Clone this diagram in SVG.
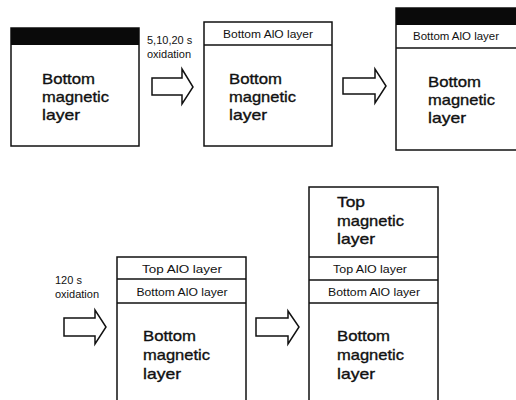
<svg xmlns="http://www.w3.org/2000/svg" width="516" height="400" viewBox="0 0 516 400">
<style>
.box{fill:#fff;stroke:#111;stroke-width:1.5}
.div{stroke:#111;stroke-width:1.3}
.band{fill:#0a0a0a}
.big{font-family:"Liberation Sans",Arial,sans-serif;font-size:15px;fill:#111;stroke:#111;stroke-width:0.35}
.sm{font-family:"Liberation Sans",Arial,sans-serif;font-size:10.5px;fill:#111;text-anchor:middle}
.lbl{font-family:"Liberation Sans",Arial,sans-serif;font-size:11px;fill:#111}
.arr{fill:#fff;stroke:#111;stroke-width:1.5;stroke-linejoin:miter}
</style>
<rect width="516" height="400" fill="#fff"/>
<g id="connectors">
<polygon class="arr" points="152,78 182,78 182,69 193,87 182,104 182,95 152,95"/>
<polygon class="arr" points="343,78 375,78 375,69 386,86 375,103 375,94 343,94"/>
<polygon class="arr" points="64,318 95,318 95,310 106,327 95,344 95,336 64,336"/>
<polygon class="arr" points="256,318 288,318 288,311 299,327 288,344 288,336 256,336"/>
<text class="lbl" x="147" y="44">5,10,20 s</text>
<text class="lbl" x="147" y="58">oxidation</text>
<text class="lbl" x="55" y="284">120 s</text>
<text class="lbl" x="55" y="298">oxidation</text>
</g>
<g id="stack1">
<rect class="box" x="11" y="28" width="128" height="118"/>
<rect class="band" x="11" y="28" width="128" height="17"/>
<text class="big" x="42" y="84" textLength="53" lengthAdjust="spacingAndGlyphs">Bottom</text>
<text class="big" x="42" y="102" textLength="67" lengthAdjust="spacingAndGlyphs">magnetic</text>
<text class="big" x="42" y="120" textLength="38" lengthAdjust="spacingAndGlyphs">layer</text>
</g>
<g id="stack2">
<rect class="box" x="204" y="22" width="128" height="124"/>
<line class="div" x1="204" y1="45" x2="332" y2="45"/>
<text class="sm" x="268" y="38" textLength="90" lengthAdjust="spacingAndGlyphs">Bottom AlO layer</text>
<text class="big" x="229" y="84" textLength="53" lengthAdjust="spacingAndGlyphs">Bottom</text>
<text class="big" x="229" y="102" textLength="67" lengthAdjust="spacingAndGlyphs">magnetic</text>
<text class="big" x="229" y="120" textLength="38" lengthAdjust="spacingAndGlyphs">layer</text>
</g>
<g id="stack3">
<rect class="box" x="396" y="8" width="140" height="142"/>
<rect class="band" x="396" y="8" width="140" height="17"/>
<line class="div" x1="396" y1="48" x2="516" y2="48"/>
<text class="sm" x="456" y="40" textLength="86" lengthAdjust="spacingAndGlyphs">Bottom AlO layer</text>
<text class="big" x="428" y="87" textLength="53" lengthAdjust="spacingAndGlyphs">Bottom</text>
<text class="big" x="428" y="105" textLength="67" lengthAdjust="spacingAndGlyphs">magnetic</text>
<text class="big" x="428" y="123" textLength="38" lengthAdjust="spacingAndGlyphs">layer</text>
</g>
<g id="stack4">
<rect class="box" x="117" y="257" width="129" height="150"/>
<line class="div" x1="117" y1="279" x2="246" y2="279"/>
<line class="div" x1="117" y1="303" x2="246" y2="303"/>
<text class="sm" x="182" y="273" textLength="80" lengthAdjust="spacingAndGlyphs">Top AlO layer</text>
<text class="sm" x="182" y="296" textLength="91" lengthAdjust="spacingAndGlyphs">Bottom AlO layer</text>
<text class="big" x="143" y="341" textLength="53" lengthAdjust="spacingAndGlyphs">Bottom</text>
<text class="big" x="143" y="360" textLength="67" lengthAdjust="spacingAndGlyphs">magnetic</text>
<text class="big" x="143" y="379" textLength="38" lengthAdjust="spacingAndGlyphs">layer</text>
</g>
<g id="stack5">
<rect class="box" x="309" y="187" width="129" height="220"/>
<line class="div" x1="309" y1="257" x2="438" y2="257"/>
<line class="div" x1="309" y1="280" x2="438" y2="280"/>
<line class="div" x1="309" y1="303" x2="438" y2="303"/>
<text class="big" x="337" y="207" textLength="28" lengthAdjust="spacingAndGlyphs">Top</text>
<text class="big" x="337" y="226" textLength="67" lengthAdjust="spacingAndGlyphs">magnetic</text>
<text class="big" x="337" y="244" textLength="38" lengthAdjust="spacingAndGlyphs">layer</text>
<text class="sm" x="370" y="273" textLength="74" lengthAdjust="spacingAndGlyphs">Top AlO layer</text>
<text class="sm" x="374" y="296" textLength="92" lengthAdjust="spacingAndGlyphs">Bottom AlO layer</text>
<text class="big" x="337" y="341" textLength="53" lengthAdjust="spacingAndGlyphs">Bottom</text>
<text class="big" x="337" y="360" textLength="67" lengthAdjust="spacingAndGlyphs">magnetic</text>
<text class="big" x="337" y="379" textLength="38" lengthAdjust="spacingAndGlyphs">layer</text>
</g>
</svg>
